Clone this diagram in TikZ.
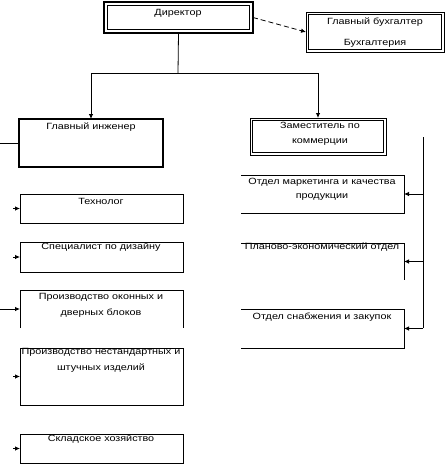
\documentclass[tikz,border=0pt]{standalone}
\usepackage{fontspec}
\setmainfont{Liberation Sans}
\usetikzlibrary{arrows.meta}
\newcommand{\sx}[1]{\scalebox{1.2}[1]{#1}}
\tikzset{
  shp/.style={minimum width=#1, inner sep=0pt, outer sep=0pt},
  fr/.style={line width=0.8pt},
  thk/.style={line width=2.2pt},
  txt/.style={font=\fontsize{9}{10}\selectfont, inner sep=0pt, align=center},
  arr/.style={line width=0.8pt, -{Latex[length=5pt,width=4.5pt]}},
}
\begin{document}
\begin{tikzpicture}[x=1pt,y=-1pt]
\useasboundingbox (0,0) rectangle (446,466);
% boxes (shapes)
\node[shp=149pt, minimum height=31pt] (dir) at (178.5,17.5) {};
\node[shp=138pt, minimum height=40pt] (gb) at (375,32) {};
\node[shp=144pt, minimum height=48pt] (gi) at (91,143) {};
\node[shp=136pt, minimum height=37pt] (zk) at (318,136.5) {};
\node[shp=163pt, minimum height=38pt] (om) at (322.5,194) {};
\node[shp=163pt, minimum height=37pt] (pe) at (322.5,261.5) {};
\node[shp=163pt, minimum height=39pt] (os) at (322.5,328.5) {};
\node[shp=163pt, minimum height=29pt] (tech) at (101.5,208.5) {};
\node[shp=163pt, minimum height=30pt] (des) at (101.5,257) {};
\node[shp=163pt, minimum height=38pt] (pok) at (101.5,309) {};
\node[shp=163pt, minimum height=57pt] (pn) at (101.5,376.5) {};
\node[shp=163pt, minimum height=29pt] (sk) at (101.5,448.5) {};
% director double frame
\draw[line width=2.6pt] (dir.north west) rectangle (dir.south east);
\draw[fr] ([shift={(3.5,3.5)}]dir.north west) rectangle ([shift={(-3.5,-3.5)}]dir.south east);
% chief accountant double frame
\draw[fr] (gb.north west) rectangle (gb.south east);
\draw[fr] ([shift={(2.5,2.5)}]gb.north west) rectangle ([shift={(-2.5,-2.5)}]gb.south east);
% chief engineer
\draw[thk] (gi.north west) rectangle (gi.south east);
% deputy
\draw[fr] (zk.north west) rectangle (zk.south east);
\draw[fr] ([shift={(2.5,2.5)}]zk.north west) rectangle ([shift={(-2.5,-2.5)}]zk.south east);
% right departments (open on the left)
\draw[fr] (om.north west) -- (om.north east) -- (om.south east) -- (om.south west);
\draw[fr] (pe.north west) -- (pe.north east) -- (pe.south east);
\draw[fr] (os.north west) -- (os.north east) -- (os.south east) -- (os.south west);
% left departments
\draw[fr] (tech.north west) rectangle (tech.south east);
\draw[fr] (des.north west) rectangle (des.south east);
\draw[fr] (pok.south west) -- (pok.north west) -- (pok.north east) -- (pok.south east);
\draw[fr] (pn.north west) rectangle (pn.south east);
\draw[fr] (sk.north west) rectangle (sk.south east);
% texts
\node[txt] (t1) at (178,13) {\sx{Директор}};
\node[txt] (t2) at (375,22) {\sx{Главный бухгалтер}};
\node[txt] (t3) at (375,43) {\sx{Бухгалтерия}};
\node[txt] (t4) at (91,127) {\sx{Главный инженер}};
\node[txt] (t5) at (320,125) {\sx{Заместитель по}};
\node[txt] (t6) at (320,142) {\sx{коммерции}};
\node[txt] (t7) at (322,182) {\sx{Отдел маркетинга и качества}};
\node[txt] (t8) at (322,197) {\sx{продукции}};
\node[txt] (t9) at (322,247) {\sx{Планово-экономический отдел}};
\node[txt] (t10) at (322,317) {\sx{Отдел снабжения и закупок}};
\node[txt] (t11) at (101,201) {\sx{Технолог}};
\node[txt] (t12) at (101,247) {\sx{Специалист по дизайну}};
\node[txt] (t13) at (101,297) {\sx{Производство оконных и}};
\node[txt] (t14) at (101,313) {\sx{дверных блоков}};
\node[txt] (t15) at (101,352) {\sx{Производство нестандартных и}};
\node[txt] (t16) at (101,368) {\sx{штучных изделий}};
\node[txt] (t17) at (101,439) {\sx{Складское хозяйство}};
% connectors
\draw[arr, dashed, dash pattern=on 5pt off 3pt] (dir.east) -- (gb.west);
\coordinate (j) at (178,73);
\draw[fr] (dir.south) -- (j);
\draw[arr] (j) -| (gi.north);
\draw[arr] (j) -| (zk.north);
\coordinate (gil) at (0,143);
\draw[fr] (gil) -- (gi.west);
% right vertical bus
\coordinate (rt) at (423,137);
\coordinate (rb) at (423,328);
\draw[fr] (rt) -- (rb);
\draw[arr] (om.east -| rt) -- (om.east);
\draw[arr] (pe.east -| rt) -- (pe.east);
\draw[arr] (os.east -| rt) -- (os.east);
% left arrows
\coordinate (lx) at (13,0);
\draw[arr] (tech.west -| lx) -- (tech.west);
\draw[arr] (des.west -| lx) -- (des.west);
\coordinate (pl) at (0,309);
\draw[arr] (pl) -- (pok.west);
\draw[arr] (pn.west -| lx) -- (pn.west);
\draw[arr] (sk.west -| lx) -- (sk.west);
\end{tikzpicture}
\end{document}
